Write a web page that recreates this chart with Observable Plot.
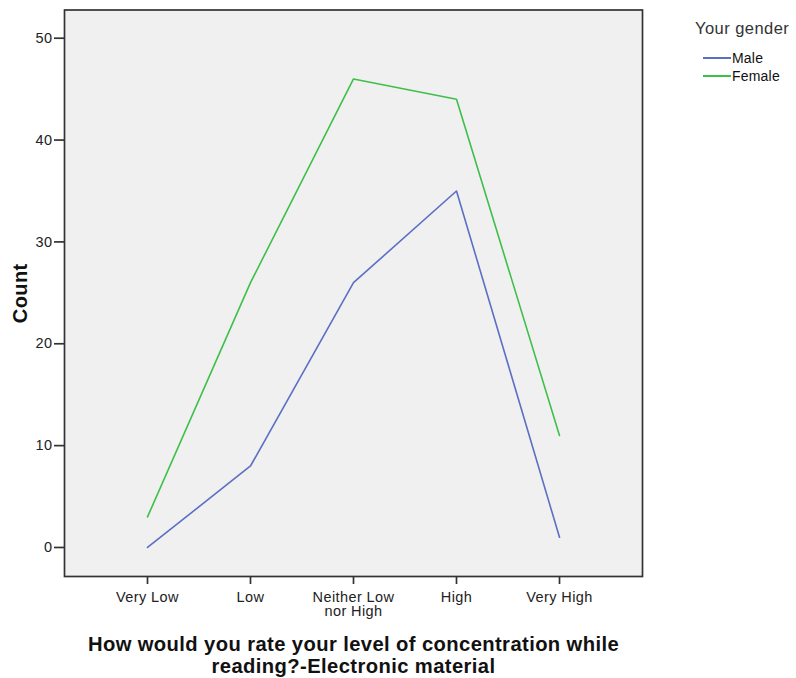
<!DOCTYPE html>
<html><head><meta charset="utf-8">
<script src="https://cdn.jsdelivr.net/npm/d3@7"></script>
<script src="https://cdn.jsdelivr.net/npm/@observablehq/plot@0.6"></script>
<style>
body{margin:0;background:#fff;font-family:"Liberation Sans",Arial,sans-serif;}
#wrap{position:relative;width:796px;height:678px;}
#legend{position:absolute;left:695px;top:19px;color:#333;}
#legend .t{font-size:16.5px;margin-bottom:11px;letter-spacing:0.45px;}
#legend .r{display:flex;align-items:center;font-size:14px;height:18px;margin-left:8px;color:#111;letter-spacing:0.2px;}
#legend .r span{display:inline-block;width:28px;height:2px;margin-right:1px;}
</style></head>
<body><div id="wrap"><div id="legend"></div></div>
<script>
const categories = ["Very Low","Low","Neither Low nor High","High","Very High"];
const tickLabels = ["Very Low","Low","Neither Low\nnor High","High","Very High"];
const series = ["Male","Female"];
const male = [0, 8, 26, 35, 1];
const female = [3, 26, 46, 44, 11];
const colors = ["#5b6fc4","#3ebf48"];
const yTicks = [0,10,20,30,40,50];
const xTitle = "How would you rate your level of concentration while\nreading?-Electronic material";
const yTitle = "Count";
const legendTitle = "Your gender";

const data = [];
categories.forEach((c,i)=>{ data.push({cat:c, gender:"Male", v:male[i]}); data.push({cat:c, gender:"Female", v:female[i]}); });

const plot = Plot.plot({
  width: 796, height: 678,
  marginLeft: 64, marginRight: 154, marginTop: 9.5, marginBottom: 102,
  style: {fontFamily: '"Liberation Sans", Arial, sans-serif', fontSize: "14.5px", color: "#222", background: "transparent", letterSpacing: "0.4px"},
  x: {type: "point", domain: categories, padding: 0.785, label: null},
  y: {domain: [-2.85, 52.77], label: null},
  color: {domain: series, range: colors},
  marks: [
    Plot.frame({fill: "#f0f0f0", stroke: null}),
    Plot.line(data, {x: "cat", y: "v", z: "gender", stroke: "gender", strokeWidth: 1.6}),
    Plot.frame({stroke: "#333", strokeWidth: 1.7}),
    Plot.axisY({ticks: yTicks, tickSize: 10, tickPadding: 2, label: null, stroke: "#333", strokeWidth: 1.7, fill: "#222", fontSize: 14.5}),
    Plot.axisX({tickSize: 8, tickPadding: 7, label: null, tickFormat: (d) => tickLabels[categories.indexOf(d)], stroke: "#333", strokeWidth: 1.7, fill: "#222", fontSize: 14.5, lineHeight: 0.97}),
    Plot.text([xTitle], {frameAnchor: "bottom", dy: 59, lineAnchor: "top", text: d => d, fontSize: 20.2, fontWeight: "bold", fill: "#111", lineHeight: 1.08}),
    Plot.text([yTitle], {frameAnchor: "left", textAnchor: "middle", dx: -44, rotate: -90, text: d => d, fontSize: 20, fontWeight: "bold", fill: "#111"})
  ]
});
document.getElementById("wrap").prepend(plot);

const lg = document.getElementById("legend");
const t = document.createElement("div"); t.className = "t"; t.textContent = legendTitle; lg.appendChild(t);
series.forEach((s,i)=>{
  const r = document.createElement("div"); r.className = "r";
  const sw = document.createElement("span"); sw.style.background = colors[i];
  r.appendChild(sw); r.appendChild(document.createTextNode(s)); lg.appendChild(r);
});
</script></body></html>
